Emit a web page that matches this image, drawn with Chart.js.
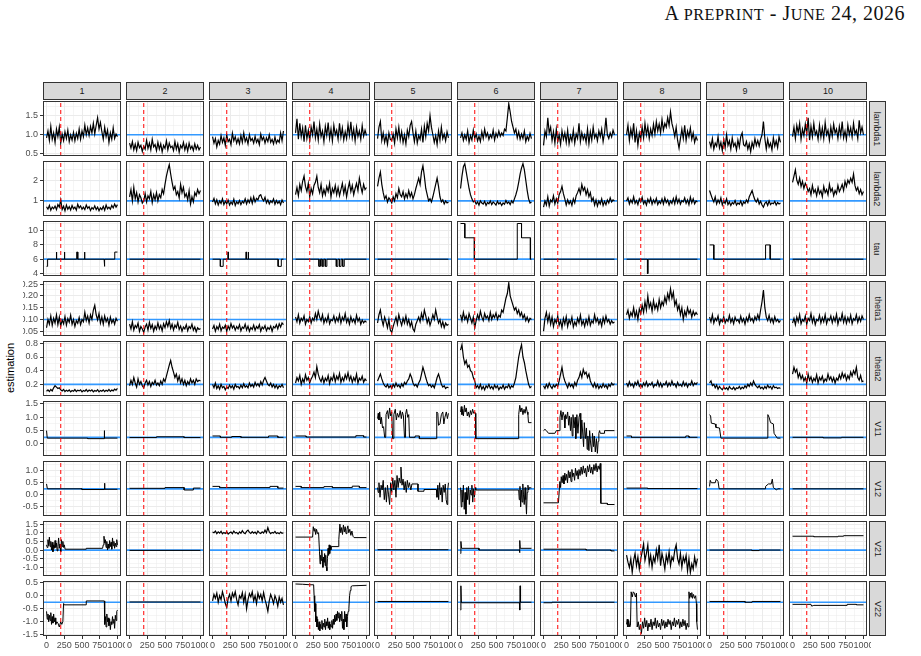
<!DOCTYPE html>
<html><head><meta charset="utf-8">
<script src="https://cdn.jsdelivr.net/npm/chart.js@4/dist/chart.umd.min.js"></script>
<style>
html,body{margin:0;padding:0;background:#fff}
body{width:921px;height:656px;overflow:hidden;position:relative;font-family:"Liberation Sans",Arial,sans-serif}
canvas{position:absolute}
.strip{position:absolute;background:#D9D9D9;border:1px solid #333;box-sizing:border-box;color:#1A1A1A;font-size:9px;display:flex;align-items:center;justify-content:center}
.rstrip span{display:block;transform:rotate(90deg);white-space:nowrap}
#hdr{position:absolute;right:16px;top:2px;font-family:"Liberation Serif","Times New Roman",serif;font-size:20px;color:#111;white-space:nowrap;letter-spacing:0.5px}
#hdr .sc{font-size:16.2px}
#ytitle{position:absolute;left:10px;top:368px;transform:translate(-50%,-50%) rotate(-90deg);font-size:11px;color:#000;white-space:nowrap}
</style></head>
<body>
<div id="hdr">A <span class="sc">PREPRINT</span> - J<span class="sc">UNE</span> 24, 2026</div>
<div id="ytitle">estimation</div>
<script>
// ---------------- data ----------------
const simulations = ['1','2','3','4','5','6','7','8','9','10'];
const parameters = ['lambda1','lambda2','tau','theta1','theta2','V11','V12','V21','V22'];
const trueValues = [1, 1, 6, 0.1, 0.2, 0.25, 0.25, 0, -0.25];
const changePoint = 200;
const iterations = [0,20,40,60,80,100,120,140,160,180,200,220,240,260,280,300,320,340,360,380,400,420,440,460,480,500,520,540,560,580,600,620,640,660,680,700,720,740,760,780,800,820,840,860,880,900,920,940,960,980,1000];
const xTicks = [0,250,500,750,1000];
const xTickLabels = ['0','250','500','750','1000'];
const yTicks = [[0.5,1,1.5],[1,2],[4,6,8,10],[0.05,0.1,0.15,0.2,0.25],[0.2,0.4,0.6,0.8],[0,0.5,1,1.5],[-0.5,0,0.5,1],[-1,-0.5,0,0.5,1,1.5],[-1.5,-1,-0.5,0,0.5]];
const yTickLabels = [['0.5','1.0','1.5'],['1','2'],['4','6','8','10'],['0.05','0.10','0.15','0.20','0.25'],['0.2','0.4','0.6','0.8'],['0.0','0.5','1.0','1.5'],['-0.5','0.0','0.5','1.0'],['-1.0','-0.5','0.0','0.5','1.0','1.5'],['-1.5','-1.0','-0.5','0.0','0.5']];
const yLimits = [[0.44,1.89],[0.27,2.93],[3.65,11.35],[0.030,0.263],[0.03,0.834],[-0.45,1.61],[-0.875,1.40],[-1.5,1.68],[-1.545,0.565]];
const xLimits = [-50,1050];

const lambda1 = [
[0.92,1.10,0.85,1.22,0.88,1.05,0.80,1.15,0.95,1.20, 0.78,1.02,0.85,1.08,0.90,1.12,0.82,1.00,0.86,1.06, 0.84,1.04,0.90,1.15,0.88,1.10,0.95,1.25,1.00,1.18, 0.98,1.22,1.05,1.30,1.02,1.25,1.45,1.15,1.32,1.08, 0.88,1.20,0.95,1.12,0.80,1.05,0.88,1.18,0.90,1.02,0.95],
[0.78,0.65,0.82,0.60,0.75,0.58,0.80,0.66,0.72,0.56, 0.70,0.62,0.85,0.64,0.78,0.60,0.88,0.68,0.74,0.58, 0.80,0.62,0.76,0.55,0.72,0.64,0.84,0.60,0.78,0.66, 0.70,0.58,0.82,0.62,0.76,0.54,0.72,0.65,0.80,0.60, 0.74,0.57,0.78,0.63,0.70,0.58,0.76,0.62,0.72,0.60,0.68],
[0.95,0.78,0.90,0.68,0.85,0.75,0.98,0.80,0.92,0.72, 1.00,0.82,0.88,0.74,1.04,0.84,0.95,0.78,0.90,0.76, 0.98,0.80,1.05,0.82,0.92,0.76,1.00,0.84,0.90,0.78, 0.96,0.80,0.88,0.74,1.02,0.86,0.94,0.78,0.92,0.82, 1.00,0.80,0.88,0.76,0.94,0.78,0.86,0.80,1.05,0.84,1.10],
[1.05,1.42,0.88,1.30,0.95,1.18,0.82,1.25,0.90,1.12, 0.85,1.20,1.00,1.35,0.92,1.15,0.86,1.28,0.95,1.10, 0.82,1.22,0.98,1.32,0.90,1.15,0.84,1.25,1.00,1.12, 0.88,1.30,0.94,1.18,0.86,1.08,0.90,1.26,0.98,1.34, 0.92,1.15,0.84,1.20,0.95,1.10,0.88,1.24,0.96,1.12,0.98],
[0.90,1.20,1.35,0.85,1.05,0.80,0.98,0.75,1.05,0.88, 0.85,1.02,0.78,1.15,0.92,1.20,0.86,1.08,0.80,1.00, 0.76,1.12,0.95,1.25,1.35,1.05,0.82,1.10,0.78,0.98, 0.88,1.15,0.80,1.22,0.95,1.30,1.10,1.50,1.20,1.00, 0.80,0.98,0.74,1.10,0.86,1.20,0.90,1.02,0.84,1.08,0.92],
[0.92,1.05,0.85,1.00,0.88,1.10,0.80,0.98,0.86,1.12, 0.90,1.02,0.84,0.96,0.82,1.08,0.90,1.15,0.95,1.05, 0.88,1.00,0.92,1.12,0.86,1.04,0.94,1.10,0.96,1.05, 0.98,1.15,1.10,1.45,1.82,1.60,1.35,1.20,1.05,1.15, 0.92,1.08,0.88,1.02,0.90,1.10,0.82,0.96,0.86,1.04,0.90],
[0.72,1.10,0.95,1.45,1.05,1.20,0.85,1.08,0.78,1.15, 0.82,1.00,0.75,1.10,0.88,1.05,0.80,1.12,0.76,0.98, 0.84,1.12,0.78,1.02,0.90,1.30,0.82,1.06,0.88,1.00, 0.80,1.15,0.76,1.08,0.86,1.20,0.92,1.02,0.84,1.10, 0.95,1.15,0.82,1.05,1.45,1.00,0.90,1.05,0.94,1.12,1.00],
[1.00,1.25,0.85,1.15,0.95,1.30,0.80,1.10,0.72,1.05, 0.88,1.20,0.92,1.30,1.00,1.22,0.90,1.15,0.98,1.28, 1.02,1.35,1.10,1.28,1.05,1.40,1.12,1.30,1.20,1.45, 1.25,1.60,1.30,1.15,0.95,1.20,0.85,0.65,0.90,1.15, 0.90,1.25,0.85,1.10,0.95,1.18,0.88,1.05,0.80,0.95,0.85],
[0.82,0.68,0.90,0.62,0.78,0.70,0.95,0.65,0.80,0.58, 0.88,0.66,1.00,0.72,0.84,0.62,0.92,0.70,0.78,0.60, 0.86,0.68,0.95,1.05,0.74,0.70,0.82,0.62,0.76,0.55, 0.80,0.66,0.90,0.72,0.85,0.70,0.88,1.00,1.35,0.90, 0.62,0.88,0.68,0.78,0.60,0.92,0.70,0.84,0.66,0.95,0.80],
[0.95,1.20,0.90,1.25,1.05,1.30,0.88,1.15,0.98,1.28, 1.02,1.45,0.86,1.22,0.95,1.30,1.00,1.10,0.88,1.25, 0.94,1.18,0.90,1.32,1.00,1.12,0.86,1.20,0.96,1.28, 1.04,1.15,0.90,1.22,0.98,1.35,0.92,1.10,0.88,1.26, 1.00,1.18,0.94,1.30,1.02,1.12,0.90,1.38,1.05,1.20,1.00]
];

const lambda2 = [
[0.72,0.60,0.78,0.55,0.70,0.62,0.75,0.58,0.82,0.70, 1.05,0.58,0.74,0.52,0.80,0.60,0.72,0.56,0.78,0.62, 0.70,0.55,0.84,0.66,0.76,0.60,0.70,0.58,0.80,0.64, 0.72,0.54,0.68,0.60,0.76,0.58,0.70,0.52,0.66,0.58, 0.74,0.55,0.80,0.62,0.70,0.60,0.78,0.66,0.85,0.70,0.82],
[1.20,1.55,1.00,1.65,1.10,1.40,0.95,1.30,1.15,0.90, 1.00,1.35,0.95,1.25,1.10,1.45,0.92,1.30,1.05,1.40, 1.00,1.30,1.15,1.55,1.35,1.80,2.20,2.50,2.75,2.30, 1.90,1.55,1.70,1.30,1.45,1.15,1.80,1.40,1.65,1.20, 1.35,1.05,1.50,0.85,1.20,0.95,1.40,1.25,1.55,1.35,1.50],
[0.95,1.12,0.85,1.05,0.80,1.00,0.88,1.10,0.82,0.98, 0.86,1.04,0.80,0.95,0.84,1.08,0.78,0.96,0.86,1.02, 0.82,0.98,0.90,1.10,0.85,1.05,0.92,1.15,0.88,1.20, 0.95,1.12,1.05,1.25,1.30,1.10,1.00,1.18,0.90,1.05, 0.85,1.00,0.92,1.10,0.84,1.02,0.88,0.98,0.82,1.05,0.90],
[1.30,1.65,1.25,1.80,1.50,1.95,2.20,1.70,1.45,1.85, 1.20,1.60,1.35,1.75,1.90,2.20,1.65,1.40,1.80,1.25, 1.55,1.30,1.70,1.45,1.85,1.20,1.60,1.40,1.75,1.30, 1.65,1.25,1.55,1.85,1.35,1.70,1.20,1.60,1.90,1.45, 1.75,1.30,1.60,1.85,1.50,2.10,1.70,1.40,1.80,1.55,1.65],
[1.70,2.10,2.40,1.80,1.40,1.10,1.25,0.95,1.15,1.05, 0.90,1.20,1.00,1.35,1.15,1.60,1.30,1.20,1.45,1.10, 1.35,1.15,1.50,1.20,1.40,1.10,1.30,1.60,1.85,2.10, 1.80,2.40,2.70,2.20,1.60,1.30,1.00,1.10,0.95,1.20, 1.50,1.80,2.10,1.70,1.20,0.95,1.05,0.85,1.00,0.90,0.95],
[1.60,2.20,2.65,2.80,2.40,2.00,1.60,1.30,1.10,0.95, 1.00,0.85,0.95,0.80,1.00,0.90,0.85,0.98,0.78,0.92, 0.86,1.00,0.82,0.95,0.88,0.80,0.98,0.85,0.92,0.78, 0.90,0.84,1.02,0.88,0.95,0.82,1.00,0.90,1.10,1.30, 1.55,1.90,2.30,2.60,2.80,2.50,2.00,1.50,1.10,0.90,0.95],
[0.70,1.00,0.80,1.20,0.75,1.05,0.95,1.25,0.85,1.10, 0.90,1.30,1.45,1.70,1.35,1.10,0.80,1.05,0.85,1.00, 0.78,1.10,0.90,1.25,1.40,1.60,1.35,1.80,1.50,1.65, 1.30,1.55,1.20,1.40,1.00,1.15,0.80,1.05,0.75,1.00, 0.85,1.10,0.78,0.98,0.82,1.05,0.90,1.15,0.95,1.05,1.00],
[1.00,1.15,0.85,1.05,0.90,1.20,0.88,1.02,0.82,1.10, 0.95,1.18,0.86,1.00,0.80,1.08,0.92,1.15,0.84,1.05, 0.90,1.12,0.82,0.98,0.88,1.10,0.85,1.15,0.92,1.05, 0.80,1.00,0.88,1.12,0.86,1.20,0.90,1.08,0.84,1.02, 0.95,1.15,0.88,1.05,0.82,1.18,0.90,1.10,0.86,1.00,0.95],
[1.50,1.30,1.10,0.95,1.20,0.85,1.05,0.90,1.15,0.80, 1.00,0.88,1.10,0.82,0.95,0.78,0.92,0.85,1.02,0.80, 0.90,0.84,1.00,0.78,0.95,0.88,1.05,0.92,1.20,1.35, 1.50,1.25,1.05,0.95,1.10,0.85,0.98,0.80,0.70,0.88, 0.95,0.78,1.00,0.82,0.90,0.86,0.98,0.80,0.92,0.85,0.90],
[1.90,2.20,2.50,2.00,1.80,2.10,1.70,1.95,1.60,1.85, 1.70,1.45,1.60,1.30,1.75,1.40,1.55,1.25,1.65,1.35, 1.50,1.20,1.70,1.40,1.55,1.30,1.80,1.45,1.60,1.25, 1.50,1.35,1.75,1.45,1.60,1.80,1.50,1.95,1.70,2.00, 1.85,2.10,1.90,2.30,1.75,1.50,1.65,1.35,1.55,1.30,1.45]
];

const tau = [
[[0,5],[15,5],[15,6],[135,6],[135,7],[145,7],[145,6],[248,6],[248,7],[258,7],[258,6],[425,6],[425,7],[440,7],[440,6],[530,6],[530,7],[542,7],[542,6],[812,6],[812,5],[822,5],[822,6],[962,6],[962,7],[1000,7]],
[[0,6],[1000,6]],
[[0,6],[110,6],[110,5],[150,5],[150,6],[215,6],[215,7],[225,7],[225,6],[470,6],[470,7],[480,7],[480,6],[500,6],[500,7],[510,7],[510,6],[925,6],[925,5],[970,5],[970,6],[1000,6]],
[[0,6],[330,6],[330,5],[352,5],[352,6],[375,6],[375,5],[397,5],[397,6],[420,6],[420,5],[442,5],[442,6],[575,6],[575,5],[597,5],[597,6],[620,6],[620,5],[642,5],[642,6],[665,6],[665,5],[687,5],[687,6],[1000,6]],
[[0,6],[1000,6]],
[[0,11],[60,11],[60,9],[195,9],[195,6],[800,6],[800,11],[860,11],[860,9],[985,9],[985,6],[1000,6]],
[[0,6],[1000,6]],
[[0,6],[295,6],[295,4],[305,4],[305,6],[1000,6]],
[[0,8],[60,8],[60,6],[790,6],[790,8],[855,8],[855,6],[1000,6]],
[[0,6],[1000,6]]
];

const theta1 = [
[0.065,0.100,0.080,0.115,0.075,0.105,0.085,0.120,0.078,0.110, 0.072,0.098,0.082,0.112,0.076,0.104,0.088,0.118,0.080,0.100, 0.070,0.095,0.084,0.108,0.078,0.100,0.090,0.130,0.095,0.115, 0.085,0.120,0.100,0.140,0.160,0.120,0.098,0.125,0.085,0.110, 0.080,0.115,0.090,0.105,0.076,0.110,0.086,0.100,0.080,0.105,0.092],
[0.080,0.060,0.090,0.055,0.075,0.065,0.085,0.050,0.070,0.060, 0.045,0.068,0.080,0.055,0.088,0.062,0.078,0.050,0.072,0.058, 0.085,0.060,0.075,0.052,0.082,0.065,0.090,0.070,0.095,0.062, 0.080,0.055,0.076,0.065,0.088,0.058,0.072,0.050,0.068,0.060, 0.078,0.052,0.070,0.062,0.080,0.055,0.068,0.048,0.065,0.058,0.062],
[0.060,0.075,0.050,0.070,0.058,0.080,0.052,0.068,0.062,0.076, 0.050,0.072,0.058,0.082,0.064,0.074,0.055,0.070,0.060,0.078, 0.052,0.068,0.062,0.080,0.056,0.072,0.050,0.066,0.058,0.076, 0.054,0.070,0.062,0.078,0.050,0.068,0.060,0.074,0.052,0.066, 0.058,0.072,0.050,0.070,0.064,0.078,0.060,0.082,0.068,0.085,0.078],
[0.110,0.090,0.120,0.085,0.105,0.095,0.115,0.080,0.100,0.090, 0.112,0.085,0.105,0.095,0.125,0.100,0.135,0.110,0.095,0.120, 0.085,0.105,0.090,0.118,0.082,0.100,0.095,0.115,0.088,0.108, 0.092,0.120,0.085,0.110,0.096,0.125,0.088,0.105,0.080,0.112, 0.090,0.102,0.084,0.118,0.092,0.106,0.080,0.098,0.086,0.094,0.088],
[0.085,0.120,0.140,0.100,0.075,0.110,0.090,0.065,0.100,0.055, 0.045,0.070,0.090,0.110,0.080,0.120,0.095,0.075,0.105,0.085, 0.115,0.080,0.100,0.070,0.090,0.060,0.050,0.080,0.095,0.110, 0.090,0.125,0.100,0.140,0.115,0.085,0.105,0.075,0.095,0.120, 0.100,0.140,0.110,0.085,0.100,0.070,0.090,0.065,0.085,0.075,0.080],
[0.120,0.095,0.130,0.100,0.115,0.090,0.125,0.105,0.085,0.110, 0.065,0.095,0.120,0.100,0.135,0.110,0.095,0.125,0.105,0.115, 0.095,0.130,0.100,0.120,0.108,0.128,0.100,0.118,0.110,0.140, 0.130,0.160,0.190,0.210,0.255,0.200,0.180,0.160,0.140,0.150, 0.125,0.140,0.115,0.130,0.105,0.120,0.095,0.110,0.090,0.105,0.100],
[0.050,0.105,0.130,0.090,0.120,0.080,0.110,0.070,0.100,0.085, 0.115,0.075,0.095,0.065,0.105,0.080,0.112,0.070,0.098,0.082, 0.110,0.068,0.090,0.075,0.105,0.085,0.118,0.078,0.095,0.070, 0.100,0.080,0.112,0.075,0.095,0.085,0.120,0.090,0.105,0.080, 0.098,0.072,0.108,0.085,0.115,0.090,0.100,0.080,0.095,0.085,0.090],
[0.120,0.140,0.105,0.130,0.115,0.150,0.110,0.135,0.100,0.145, 0.125,0.160,0.130,0.175,0.140,0.200,0.150,0.170,0.135,0.180, 0.145,0.165,0.140,0.185,0.150,0.175,0.160,0.195,0.170,0.210, 0.185,0.230,0.190,0.215,0.160,0.180,0.140,0.160,0.120,0.150, 0.100,0.135,0.115,0.150,0.125,0.140,0.110,0.135,0.118,0.130,0.120],
[0.110,0.090,0.120,0.085,0.105,0.095,0.115,0.080,0.100,0.090, 0.112,0.085,0.100,0.092,0.118,0.088,0.104,0.082,0.110,0.094, 0.100,0.086,0.114,0.090,0.104,0.080,0.108,0.092,0.120,0.095, 0.105,0.088,0.112,0.098,0.120,0.100,0.140,0.175,0.225,0.150, 0.110,0.095,0.118,0.090,0.105,0.085,0.112,0.092,0.100,0.088,0.096],
[0.085,0.105,0.078,0.110,0.090,0.120,0.082,0.100,0.092,0.115, 0.080,0.105,0.095,0.125,0.088,0.110,0.078,0.100,0.094,0.118, 0.085,0.108,0.090,0.120,0.082,0.104,0.096,0.115,0.086,0.110, 0.092,0.122,0.080,0.106,0.095,0.125,0.088,0.112,0.084,0.108, 0.090,0.118,0.082,0.104,0.096,0.120,0.088,0.110,0.092,0.115,0.100]
];

const theta2 = [
[0.100,0.120,0.095,0.125,0.105,0.150,0.180,0.160,0.140,0.150, 0.120,0.105,0.125,0.095,0.115,0.100,0.120,0.090,0.110,0.100, 0.125,0.095,0.115,0.105,0.120,0.090,0.110,0.100,0.125,0.095, 0.118,0.102,0.120,0.092,0.110,0.098,0.122,0.090,0.112,0.100, 0.120,0.095,0.115,0.100,0.125,0.098,0.118,0.105,0.130,0.115,0.140],
[0.180,0.260,0.200,0.300,0.220,0.160,0.280,0.200,0.240,0.180, 0.150,0.220,0.260,0.190,0.240,0.170,0.230,0.200,0.260,0.190, 0.220,0.180,0.250,0.200,0.280,0.240,0.320,0.400,0.480,0.550, 0.450,0.380,0.300,0.350,0.250,0.320,0.220,0.280,0.200,0.260, 0.180,0.240,0.200,0.280,0.220,0.260,0.200,0.280,0.240,0.260,0.250],
[0.200,0.150,0.220,0.140,0.180,0.130,0.200,0.150,0.170,0.120, 0.160,0.140,0.190,0.150,0.180,0.130,0.200,0.160,0.170,0.140, 0.190,0.150,0.210,0.160,0.180,0.150,0.220,0.170,0.200,0.160, 0.230,0.180,0.210,0.170,0.240,0.190,0.260,0.300,0.250,0.200, 0.180,0.220,0.160,0.200,0.150,0.190,0.140,0.180,0.160,0.200,0.150],
[0.220,0.300,0.250,0.330,0.200,0.280,0.230,0.340,0.260,0.300, 0.220,0.280,0.320,0.380,0.300,0.460,0.350,0.280,0.240,0.310, 0.220,0.290,0.250,0.330,0.210,0.300,0.260,0.350,0.240,0.320, 0.270,0.360,0.230,0.300,0.250,0.340,0.280,0.370,0.260,0.320, 0.230,0.300,0.250,0.350,0.220,0.290,0.260,0.320,0.230,0.280,0.250],
[0.250,0.300,0.350,0.280,0.220,0.180,0.160,0.200,0.150,0.180, 0.140,0.200,0.160,0.220,0.170,0.190,0.150,0.210,0.170,0.230, 0.200,0.250,0.280,0.350,0.300,0.220,0.180,0.200,0.160,0.220, 0.260,0.350,0.450,0.380,0.300,0.230,0.180,0.200,0.160,0.190, 0.150,0.220,0.300,0.350,0.280,0.200,0.160,0.180,0.140,0.160,0.150],
[0.700,0.780,0.600,0.500,0.550,0.450,0.480,0.400,0.380,0.300, 0.250,0.150,0.180,0.140,0.200,0.130,0.170,0.120,0.180,0.150, 0.200,0.140,0.170,0.130,0.190,0.150,0.180,0.120,0.160,0.140, 0.190,0.130,0.170,0.150,0.200,0.140,0.180,0.160,0.220,0.300, 0.450,0.600,0.700,0.780,0.600,0.520,0.400,0.300,0.200,0.150,0.170],
[0.180,0.140,0.200,0.150,0.220,0.170,0.140,0.190,0.160,0.200, 0.170,0.250,0.350,0.450,0.320,0.250,0.200,0.150,0.220,0.170, 0.200,0.150,0.230,0.180,0.260,0.300,0.380,0.300,0.420,0.350, 0.380,0.300,0.350,0.250,0.200,0.160,0.220,0.150,0.200,0.140, 0.180,0.150,0.210,0.160,0.190,0.140,0.200,0.170,0.220,0.190,0.210],
[0.220,0.170,0.240,0.180,0.210,0.160,0.230,0.190,0.250,0.170, 0.200,0.160,0.220,0.180,0.240,0.170,0.210,0.190,0.230,0.160, 0.200,0.180,0.250,0.170,0.220,0.160,0.210,0.190,0.240,0.170, 0.220,0.180,0.250,0.190,0.210,0.160,0.230,0.180,0.200,0.170, 0.240,0.180,0.220,0.160,0.210,0.190,0.250,0.180,0.220,0.200,0.230],
[0.220,0.250,0.180,0.200,0.150,0.190,0.130,0.170,0.140,0.120, 0.160,0.130,0.150,0.120,0.170,0.140,0.130,0.160,0.120,0.150, 0.140,0.170,0.130,0.160,0.140,0.180,0.150,0.200,0.170,0.220, 0.180,0.250,0.200,0.170,0.150,0.180,0.140,0.160,0.130,0.170, 0.140,0.190,0.150,0.170,0.130,0.180,0.150,0.160,0.140,0.150,0.140],
[0.350,0.450,0.380,0.420,0.300,0.360,0.280,0.330,0.250,0.300, 0.220,0.350,0.260,0.310,0.230,0.290,0.250,0.340,0.220,0.300, 0.260,0.320,0.230,0.280,0.250,0.350,0.270,0.310,0.240,0.300, 0.220,0.290,0.260,0.340,0.280,0.370,0.300,0.350,0.260,0.330, 0.280,0.380,0.320,0.400,0.350,0.450,0.300,0.260,0.330,0.240,0.250]
];

const V11 = [
[[0,0.5],[10,0.22],[580,0.22],[580,0.2],[812,0.2],[815,0.5],[818,0.22],[1000,0.22]],
[[0,0.24],[380,0.24],[380,0.27],[770,0.27],[770,0.24],[1000,0.24]],
[[0,0.3],[110,0.3],[110,0.25],[270,0.25],[270,0.28],[400,0.28],[400,0.25],[790,0.25],[790,0.3],[920,0.3],[920,0.25],[1000,0.25]],
[[0,0.3],[150,0.3],[150,0.26],[850,0.26],[850,0.31],[960,0.31],[960,0.26],[1000,0.26]],
[[0,0.95],[10,1.15],[20,0.9],[30,1.2],[45,0.75],[55,1.0],[70,0.6],[85,0.65],[100,0.25],[115,0.25],[120,1.1],[140,1.25],[155,0.95],[170,1.35],[185,1.05],[200,1.2],[212,0.2],[225,0.2],[230,1.1],[250,1.3],[265,0.9],[280,1.15],[300,1.0],[320,1.25],[335,0.95],[350,1.2],[365,1.05],[380,0.25],[390,0.25],[395,1.1],[410,1.3],[425,1.0],[440,1.1],[450,0.25],[530,0.25],[530,0.3],[590,0.3],[590,0.2],[830,0.2],[835,1.2],[850,1.15],[860,0.7],[880,0.75],[900,1.1],[920,1.2],[935,0.75],[950,1.0],[970,1.2],[985,0.95],[1000,1.15]],
[[0,1.2],[10,1.4],[20,1.1],[30,1.3],[40,1.05],[55,1.45],[65,1.2],[80,1.35],[95,1.05],[110,1.2],[125,1.0],[140,1.25],[155,1.1],[170,1.3],[185,1.15],[200,1.2],[210,1.15],[215,0.2],[815,0.2],[820,1.1],[835,1.45],[850,1.2],[865,1.35],[880,1.1],[895,1.3],[910,1.15],[925,1.4],[940,1.2],[950,1.1],[958,0.8],[1000,0.8]],
[[0,0.5],[20,0.55],[40,0.5],[70,0.4],[160,0.4],[180,0.5],[225,0.5],[232,1.0],[245,1.25],[260,0.9],[275,1.2],[290,1.05],[300,0.6],[310,1.1],[325,0.95],[340,1.2],[355,0.7],[365,1.05],[380,0.5],[390,1.0],[405,0.3],[415,1.1],[430,0.6],[445,1.0],[455,0.2],[470,1.1],[485,0.4],[500,1.0],[515,1.15],[525,0.2],[540,0.9],[555,0.3],[565,-0.1],[575,0.8],[590,0.2],[605,0.6],[615,-0.2],[625,0.3],[640,-0.25],[650,0.5],[665,0.0],[680,-0.3],[690,0.4],[705,-0.1],[715,0.3],[730,-0.3],[745,0.2],[760,-0.35],[770,0.1],[780,0.4],[790,0.5],[800,0.4],[860,0.4],[860,0.5],[1000,0.5]],
[[0,0.3],[70,0.3],[70,0.25],[836,0.25],[836,0.3],[880,0.3],[880,0.25],[1000,0.25]],
[[0,1.1],[15,1.05],[25,0.78],[80,0.75],[90,0.62],[140,0.6],[160,0.22],[818,0.22],[822,1.1],[840,1.0],[860,0.8],[900,0.75],[910,0.4],[935,0.3],[955,0.22],[1000,0.22]],
[[0,0.25],[430,0.25],[430,0.23],[690,0.23],[690,0.25],[1000,0.25]]
];

const V12 = [
[[0,0.45],[12,0.25],[500,0.25],[500,0.22],[815,0.22],[818,0.48],[822,0.23],[1000,0.23]],
[[0,0.27],[500,0.27],[500,0.3],[770,0.3],[770,0.2],[900,0.2],[900,0.28],[1000,0.28]],
[[0,0.35],[100,0.35],[100,0.3],[810,0.3],[810,0.35],[920,0.35],[920,0.28],[1000,0.28]],
[[0,0.35],[80,0.35],[80,0.3],[400,0.3],[400,0.34],[520,0.34],[520,0.3],[800,0.3],[800,0.36],[900,0.36],[900,0.3],[1000,0.3]],
[[0,0.3],[10,0.1],[20,0.5],[35,-0.1],[50,0.4],[65,0.2],[80,0.6],[95,-0.2],[110,0.3],[125,-0.3],[140,0.4],[155,0.0],[170,-0.4],[185,0.5],[200,0.1],[215,0.7],[230,0.2],[245,0.6],[260,-0.1],[275,0.8],[290,0.3],[305,0.7],[320,0.5],[330,1.15],[345,0.4],[360,0.65],[375,0.2],[390,0.55],[405,0.1],[420,0.6],[435,0.3],[450,0.5],[470,0.2],[485,0.45],[500,0.45],[570,0.45],[570,0.15],[655,0.15],[655,0.22],[830,0.22],[838,-0.1],[850,0.4],[862,-0.2],[875,0.5],[888,0.0],[900,0.3],[912,-0.3],[925,0.4],[940,0.1],[955,0.45],[968,-0.2],[980,-0.4],[990,0.2],[1000,0.5]],
[[0,0.3],[10,-0.5],[20,0.2],[30,-0.3],[40,0.4],[52,-0.6],[64,0.1],[76,-0.8],[88,0.3],[100,-0.2],[112,0.35],[124,-0.4],[136,0.2],[148,0.0],[160,0.4],[172,-0.3],[184,0.25],[196,-0.1],[208,0.3],[215,0.2],[820,0.2],[828,-0.2],[838,0.35],[848,-0.5],[858,0.2],[868,-0.3],[878,0.45],[888,0.0],[898,-0.4],[910,0.3],[920,-0.2],[930,-0.8],[940,0.1],[950,0.4],[960,0.2],[970,0.3],[1000,0.28]],
[[0,-0.33],[210,-0.33],[230,0.55],[240,0.3],[250,0.75],[262,0.5],[275,0.8],[288,0.45],[300,0.9],[312,0.6],[325,0.85],[338,0.5],[350,1.0],[362,0.7],[375,0.95],[388,0.55],[400,1.05],[412,0.75],[425,0.9],[438,0.6],[450,1.1],[462,0.8],[475,1.0],[488,0.65],[500,1.05],[515,0.8],[530,1.15],[545,0.85],[560,1.2],[575,0.9],[590,1.1],[605,0.75],[620,1.2],[635,0.95],[650,1.25],[665,0.9],[680,1.15],[695,0.85],[710,1.25],[725,1.0],[740,1.3],[755,0.95],[770,1.2],[785,1.05],[800,1.3],[808,-0.35],[900,-0.35],[900,-0.4],[1000,-0.4]],
[[0,0.28],[300,0.28],[300,0.26],[1000,0.26]],
[[0,0.35],[10,0.6],[25,0.5],[80,0.5],[95,0.65],[120,0.55],[135,0.25],[784,0.25],[790,0.35],[830,0.45],[870,0.45],[885,0.65],[900,0.3],[945,0.2],[960,0.25],[1000,0.25]],
[[0,0.25],[1000,0.25]]
];

const V21 = [
[[0,0.3],[10,0.15],[20,0.6],[30,0.25],[40,0.75],[50,0.2],[60,0.5],[70,0.0],[80,0.45],[90,-0.1],[100,0.3],[110,0.1],[120,0.55],[130,0.15],[140,0.4],[150,-0.05],[160,0.2],[170,0.7],[180,0.1],[190,0.35],[200,-0.1],[210,0.6],[220,0.2],[230,0.5],[240,0.15],[250,0.3],[262,0.05],[560,0.05],[560,0.1],[790,0.1],[800,0.3],[810,0.8],[820,0.4],[830,0.6],[840,0.15],[850,0.5],[860,0.0],[870,0.35],[880,0.1],[890,0.55],[900,0.2],[910,0.45],[920,0.05],[930,0.7],[940,0.25],[950,0.5],[960,0.1],[970,0.4],[980,0.2],[990,0.6],[1000,0.3]],
[[0,-0.02],[1000,-0.02]],
[1.05,1.00,1.10,0.95,1.05,0.98,1.08,0.94,1.02,0.96, 1.06,0.92,1.00,1.04,0.95,1.10,0.98,1.02,0.93,1.05, 0.97,1.12,1.00,0.95,1.08,1.15,1.02,0.96,1.06,0.98, 1.04,0.94,1.10,1.00,0.96,1.05,0.98,1.15,1.00,1.30, 1.05,0.95,1.02,0.98,1.08,0.96,1.00,0.94,1.04,0.97,1.00],
[[0,0.75],[240,0.75],[250,1.35],[262,1.1],[272,1.25],[284,0.9],[296,1.2],[310,0.95],[325,1.0],[338,-0.1],[346,-0.8],[354,-0.3],[362,-0.6],[370,0.0],[378,-0.5],[386,-1.0],[394,-0.4],[402,-0.7],[410,-0.2],[418,-0.9],[426,-0.3],[434,-1.0],[442,-1.2],[450,-0.5],[458,0.1],[466,-0.3],[474,0.3],[482,-0.2],[490,0.25],[498,0.0],[506,0.2],[600,0.2],[610,0.6],[625,1.5],[638,1.0],[650,1.3],[662,0.9],[675,1.45],[688,1.05],[700,1.35],[712,0.95],[725,1.2],[738,1.4],[750,1.0],[765,1.2],[780,0.85],[795,1.1],[810,0.8],[825,0.72],[1000,0.72]],
[[0,0.02],[1000,0.02]],
[[0,-0.2],[5,0.5],[15,0.1],[260,0.1],[260,0.0],[830,0.0],[833,-0.15],[837,0.55],[842,0.1],[1000,0.1]],
[[0,0.05],[600,0.05],[600,0.0],[950,0.0],[950,-0.05],[1000,-0.05]],
[-0.30,-0.70,-1.00,-0.50,-1.30,-0.60,-0.20,-0.90,-0.40,-1.10, -0.50,-0.10,0.35,-0.60,-0.20,0.30,-0.80,-0.30,-1.00,-0.40, -0.70,0.00,-0.50,0.30,-0.90,-0.20,-0.60,-1.10,-0.30,-0.70, -0.10,-0.90,-0.40,-0.60,0.00,0.30,-0.50,-0.80,-0.20,-1.00, -0.40,-0.70,-0.30,-1.20,-0.50,-1.30,-0.80,-1.10,-0.40,-0.90,-0.50],
[[0,0.0],[600,0.0],[600,-0.03],[700,-0.03],[700,0.0],[1000,0.0]],
[[0,0.8],[300,0.8],[300,0.77],[640,0.77],[640,0.8],[720,0.8],[720,0.83],[1000,0.83]]
];

const V22 = [
[[0,-0.6],[10,-0.9],[20,-0.7],[30,-1.0],[40,-0.75],[50,-0.95],[60,-0.65],[70,-1.1],[80,-0.8],[90,-1.05],[100,-0.7],[110,-1.0],[120,-0.85],[130,-1.1],[145,-1.0],[160,-1.05],[180,-1.2],[200,-1.0],[215,-1.1],[230,-1.0],[240,-0.3],[250,-0.35],[560,-0.35],[560,-0.2],[815,-0.2],[820,-1.1],[830,-0.8],[840,-1.2],[850,-0.7],[860,-1.0],[870,-0.85],[880,-1.15],[890,-0.9],[900,-1.3],[910,-1.0],[920,-1.1],[930,-0.8],[940,-1.05],[950,-0.9],[960,-1.25],[970,-0.75],[980,-0.95],[990,-0.6],[1000,-0.55]],
[[0,-0.24],[1000,-0.24]],
[-0.20,0.05,-0.10,0.10,-0.25,0.00,-0.15,0.15,-0.05,-0.30, -0.45,-0.10,0.05,-0.20,0.10,-0.05,0.15,-0.15,-0.35,0.00, -0.10,0.12,-0.25,0.05,-0.50,-0.15,0.08,-0.05,0.15,-0.20, 0.00,-0.30,0.10,-0.10,0.05,-0.20,0.12,-0.15,-0.35,-0.60, -0.20,0.05,-0.10,-0.30,0.00,-0.15,-0.40,-0.05,-0.25,-0.10,-0.35],
[[0,0.45],[100,0.44],[200,0.42],[255,0.42],[262,0.0],[270,-0.6],[278,-0.3],[286,-1.0],[294,-0.8],[302,-1.2],[312,-0.9],[322,-1.3],[332,-1.0],[342,-1.35],[352,-1.1],[362,-1.25],[372,-0.95],[382,-1.3],[392,-1.05],[402,-1.2],[412,-0.9],[422,-1.3],[432,-1.0],[442,-1.15],[452,-0.85],[462,-1.25],[472,-1.0],[482,-1.3],[492,-1.1],[502,-1.2],[512,-0.95],[522,-1.25],[532,-0.9],[542,-1.1],[552,-0.75],[562,-1.0],[572,-0.7],[582,-0.95],[592,-0.6],[602,-0.85],[612,-0.65],[622,-1.0],[632,-0.7],[642,-0.95],[652,-0.6],[662,-1.25],[672,-0.9],[682,-1.3],[692,-0.6],[702,-1.0],[712,-0.7],[722,-1.2],[732,-0.8],[742,-0.6],[752,-0.5],[762,0.0],[772,0.2],[782,0.35],[800,0.38],[1000,0.4]],
[[0,-0.22],[1000,-0.22]],
[[0,-0.55],[5,0.38],[12,-0.27],[830,-0.27],[835,-0.55],[840,0.38],[846,-0.25],[1000,-0.25]],
[[0,-0.27],[120,-0.27],[120,-0.25],[1000,-0.25]],
[[0,-1.1],[10,-0.9],[20,-1.2],[30,-0.95],[45,-1.2],[55,-1.15],[65,0.15],[80,-0.05],[95,0.15],[110,0.1],[125,-0.05],[140,0.1],[150,-1.2],[165,-1.0],[180,-1.3],[195,-1.1],[210,-1.45],[225,-1.0],[240,-1.25],[255,-0.85],[270,-1.2],[285,-0.95],[300,-1.35],[315,-1.05],[330,-1.2],[345,-0.9],[360,-1.3],[375,-1.0],[390,-1.15],[405,-0.85],[420,-1.25],[435,-0.95],[450,-1.2],[465,-1.05],[480,-1.3],[495,-0.9],[510,-1.15],[525,-0.95],[540,-1.25],[555,-1.0],[570,-1.2],[585,-0.9],[600,-1.1],[615,-0.95],[630,-1.3],[645,-1.0],[660,-1.15],[675,-0.85],[690,-1.2],[705,-0.95],[720,-1.1],[735,-0.9],[750,-1.25],[765,-1.0],[780,-1.2],[795,-0.9],[810,-1.15],[825,-0.95],[840,-1.3],[855,-1.05],[870,-1.2],[880,0.15],[890,-0.1],[900,0.1],[910,-0.05],[920,0.12],[930,-0.1],[945,0.05],[960,-0.1],[975,0.0],[985,-0.3],[990,-1.0],[1000,-1.3]],
[[0,-0.22],[500,-0.22],[500,-0.25],[600,-0.25],[600,-0.22],[1000,-0.22]],
[[0,-0.33],[260,-0.33],[270,-0.4],[300,-0.37],[770,-0.37],[770,-0.33],[900,-0.33],[900,-0.35],[1000,-0.35]]
];

const estimates = [lambda1, lambda2, tau, theta1, theta2, V11, V12, V21, V22];

// ---------------- layout ----------------
const PANEL_LEFT = [43,126,209,292,374,457,540,623,706,789];
const PANEL_TOP = [101,161,221,281,341,401,461,521,581];
const PANEL_W = 78, PANEL_H = 55;
const STRIP_TOP = 82, STRIP_H = 18, RSTRIP_LEFT = 869, RSTRIP_W = 17;
const FONT = '"Liberation Sans", Arial, sans-serif';
const MAJOR = '#EBEBEB', MINOR = '#EBEBEB';

function tickObjs(major, labels, lo, hi){
  const step = major.length > 1 ? major[1]-major[0] : 1;
  const out = major.map((v,i)=>({value:v, text:labels[i], minor:false}));
  for (let v = major[0]-step/2; v <= major[major.length-1]+step/2+1e-9; v += step){
    const m = Math.round(v*1e6)/1e6;
    if (m >= lo && m <= hi) out.push({value:m, text:'', minor:true});
  }
  return out.sort((a,b)=>a.value-b.value);
}

function isPairs(s){ return Array.isArray(s[0]); }
function toPoints(s){
  if (isPairs(s)) return s.map(p=>({x:p[0], y:p[1]}));
  return s.map((v,i)=>({x:iterations[i], y:v}));
}

const borderPlugin = {
  id:'panelBorder',
  afterDraw(chart){
    const {ctx, chartArea:a} = chart;
    ctx.save();
    ctx.strokeStyle = '#333333';
    ctx.lineWidth = 1;
    ctx.strokeRect(Math.round(a.left)+0.5, Math.round(a.top)+0.5, Math.round(a.right-a.left)-1, Math.round(a.bottom-a.top)-1);
    ctx.restore();
  }
};

function gridOpts(showTicks){
  return {
    color: c => (c.tick && c.tick.minor) ? MINOR : MAJOR,
    lineWidth: c => (c.tick && c.tick.minor) ? 0.5 : 1,
    drawTicks: showTicks,
    tickLength: 3,
    tickWidth: 1,
    tickColor: c => (c.tick && c.tick.minor) ? 'rgba(0,0,0,0)' : '#333333'
  };
}

// strips
simulations.forEach((s,c)=>{
  const d = document.createElement('div');
  d.className = 'strip';
  d.style.left = PANEL_LEFT[c]+'px'; d.style.top = STRIP_TOP+'px';
  d.style.width = PANEL_W+'px'; d.style.height = STRIP_H+'px';
  d.textContent = s;
  document.body.appendChild(d);
});
parameters.forEach((p,r)=>{
  const d = document.createElement('div');
  d.className = 'strip rstrip';
  d.style.left = RSTRIP_LEFT+'px'; d.style.top = PANEL_TOP[r]+'px';
  d.style.width = RSTRIP_W+'px'; d.style.height = PANEL_H+'px';
  const sp = document.createElement('span'); sp.textContent = p;
  d.appendChild(sp);
  document.body.appendChild(d);
});

const xT = tickObjs(xTicks, xTickLabels, xLimits[0], xLimits[1]);

for (let r = 0; r < parameters.length; r++){
  const yT = tickObjs(yTicks[r], yTickLabels[r], yLimits[r][0], yLimits[r][1]);
  for (let c = 0; c < simulations.length; c++){
    const firstCol = c === 0, lastRow = r === parameters.length-1;
    const padL = firstCol ? 42 : 4, padR = 4, padT = 4, padB = lastRow ? 19 : 3;
    const yW = firstCol ? 20 : 0, xH = lastRow ? 14 : 0;
    const series = estimates[r][c];
    const cv = document.createElement('canvas');
    cv.width = PANEL_W + padL + padR; cv.height = PANEL_H + padT + padB;
    cv.style.left = (PANEL_LEFT[c]-padL)+'px'; cv.style.top = (PANEL_TOP[r]-padT)+'px';
    document.body.appendChild(cv);
    new Chart(cv, {
      type:'line',
      data:{datasets:[
        {data:[{x:changePoint,y:yLimits[r][0]},{x:changePoint,y:yLimits[r][1]}], borderColor:'rgba(255,0,0,0.9)', borderWidth:1.1, borderDash:[4,3], order:0},
        {data:toPoints(series), borderColor:'#000000', borderWidth: isPairs(series) ? 1.0 : 1.2, order:1},
        {data:[{x:xLimits[0],y:trueValues[r]},{x:xLimits[1],y:trueValues[r]}], borderColor:'#3399FF', borderWidth:1.7, order:2}
      ]},
      options:{
        responsive:false, maintainAspectRatio:false, animation:false, devicePixelRatio:1, events:[],
        elements:{point:{radius:0}, line:{tension:0, fill:false}},
        layout:{autoPadding:false, padding:{left:padL-yW, right:padR, top:padT, bottom:padB-xH}},
        plugins:{legend:{display:false}, tooltip:{enabled:false}},
        scales:{
          x:{type:'linear', min:xLimits[0], max:xLimits[1],
             afterBuildTicks: s => { s.ticks = xT.map(t=>Object.assign({}, t)); },
             afterFit: s => { s.height = xH; s.paddingLeft = 0; s.paddingRight = 0; },
             border:{display:false},
             grid: gridOpts(lastRow),
             ticks:{display:lastRow, autoSkip:false, maxRotation:0, minRotation:0, padding:1, color:'#4D4D4D', font:{family:FONT, size:9},
                    callback:(v,i,t)=> t[i].minor ? '' : t[i].text}},
          y:{type:'linear', min:yLimits[r][0], max:yLimits[r][1],
             afterBuildTicks: s => { s.ticks = yT.map(t=>Object.assign({}, t)); },
             afterFit: s => { s.width = yW; s.paddingTop = 0; s.paddingBottom = 0; },
             border:{display:false},
             grid: gridOpts(firstCol),
             ticks:{display:firstCol, autoSkip:false, padding:2, color:'#4D4D4D', font:{family:FONT, size:9},
                    callback:(v,i,t)=> t[i].minor ? '' : t[i].text}}
        }
      },
      plugins:[borderPlugin]
    });
  }
}
</script>
</body></html>
